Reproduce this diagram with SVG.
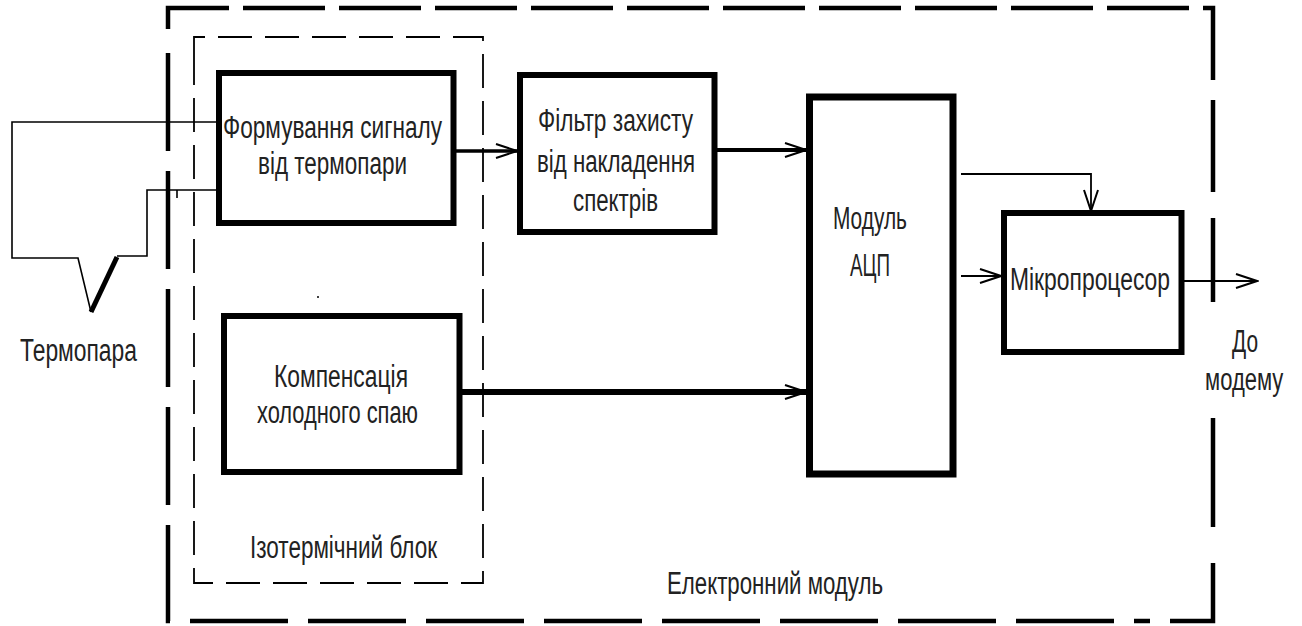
<svg xmlns="http://www.w3.org/2000/svg" width="1302" height="626" viewBox="0 0 1302 626">
<style>
.box{fill:#fff;stroke:#000;stroke-width:6}
.t{font-family:"Liberation Sans",Arial,sans-serif;font-size:31px;fill:#222}
.thin{fill:none;stroke:#000;stroke-width:1.8}
.wire{fill:none;stroke:#000;stroke-width:1.6}
.outer{fill:none;stroke:#000;stroke-width:4.5}
</style>
<defs>
<marker id="ah" markerUnits="userSpaceOnUse" markerWidth="26" markerHeight="18" viewBox="0 0 26 18" refX="24" refY="9" orient="auto">
<path d="M3,2 L24,9 L3,16" fill="none" stroke="#000" stroke-width="2"/>
</marker>
</defs>
<rect width="1302" height="626" fill="#fff"/>
<g id="frames">
<path class="outer" d="M1213,80 L1213,8 L168,8 L168,33" stroke-dasharray="82 14"/>
<path class="outer" d="M168,53 L168,621 L1150,621" stroke-dasharray="98 20"/>
<path class="outer" d="M1170,621 L1213,621 L1213,563 M1213,527 L1213,418 M1213,302 L1213,218 M1213,192 L1213,100"/>
<path d="M194,60 L194,37 L483,37 L483,583 L194,583 L194,60" fill="none" stroke="#000" stroke-width="1.8" stroke-dasharray="34 13"/>
</g>
<g id="connectors">
<path class="wire" d="M216,122 L12,122 L12,258 L78,258 L91,312"/>
<path d="M91,312 L117,257" fill="none" stroke="#000" stroke-width="5"/>
<path class="wire" d="M117,256 L147,256 L147,190 L216,190"/>
<path class="wire" d="M177,190 L177,198"/>
<circle cx="318" cy="297" r="1" fill="#000"/>
<path d="M456,151 L517,151" fill="none" stroke="#000" stroke-width="3.5" marker-end="url(#ah)"/>
<path d="M717,150 L806,150" fill="none" stroke="#000" stroke-width="4" marker-end="url(#ah)"/>
<path d="M462,392 L806,392" fill="none" stroke="#000" stroke-width="6" marker-end="url(#ah)"/>
<path class="thin" d="M961,174 L1091,174 L1091,211" marker-end="url(#ah)"/>
<path class="thin" d="M961,276 L1001,276" marker-end="url(#ah)"/>
<path class="thin" d="M1184,281 L1257,281" marker-end="url(#ah)"/>
</g>
<g id="thermocouple">
<text class="t" x="20" y="361" textLength="117" lengthAdjust="spacingAndGlyphs">Термопара</text>
</g>
<g id="node-formuvannia">
<rect class="box" x="219" y="73" width="234.5" height="150"/>
<text class="t" x="223" y="138" textLength="219" lengthAdjust="spacingAndGlyphs">Формування сигналу</text>
<text class="t" x="258" y="174" textLength="149" lengthAdjust="spacingAndGlyphs">від термопари</text>
</g>
<g id="node-filter">
<rect class="box" x="520" y="75" width="194.5" height="157"/>
<text class="t" x="538" y="131" textLength="155" lengthAdjust="spacingAndGlyphs">Фільтр захисту</text>
<text class="t" x="537" y="172" textLength="158" lengthAdjust="spacingAndGlyphs">від накладення</text>
<text class="t" x="573" y="211" textLength="85" lengthAdjust="spacingAndGlyphs">спектрів</text>
</g>
<g id="node-compensation">
<rect class="box" x="224" y="316" width="235.5" height="156"/>
<text class="t" x="274" y="387" textLength="134" lengthAdjust="spacingAndGlyphs">Компенсація</text>
<text class="t" x="257" y="423" textLength="161" lengthAdjust="spacingAndGlyphs">холодного спаю</text>
</g>
<g id="node-adc">
<rect class="box" x="809.5" y="97" width="143.5" height="377" style="stroke-width:7"/>
<text class="t" x="833" y="229" textLength="74" lengthAdjust="spacingAndGlyphs">Модуль</text>
<text class="t" x="850" y="276" textLength="40" lengthAdjust="spacingAndGlyphs">АЦП</text>
</g>
<g id="node-micro">
<rect class="box" x="1004" y="213" width="177.5" height="139"/>
<text class="t" x="1010" y="290" textLength="160" lengthAdjust="spacingAndGlyphs">Мікропроцесор</text>
</g>
<g id="labels">
<text class="t" x="1232" y="352" textLength="26" lengthAdjust="spacingAndGlyphs">До</text>
<text class="t" transform="translate(1205,390) scale(0.71,1)" x="0" y="0">модему</text>
<text class="t" x="250" y="558" textLength="187" lengthAdjust="spacingAndGlyphs">Ізотермічний блок</text>
<text class="t" x="667" y="594" textLength="216" lengthAdjust="spacingAndGlyphs">Електронний модуль</text>
</g>
</svg>
